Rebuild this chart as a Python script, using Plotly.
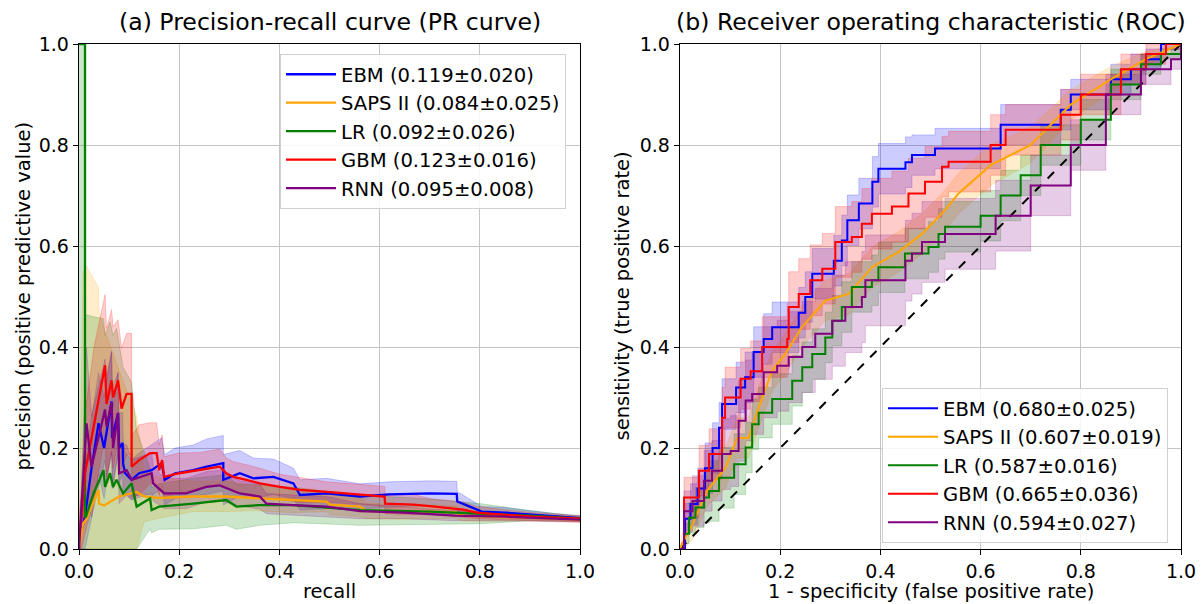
import plotly.graph_objects as go

W, H = 1201, 604
FONT = "DejaVu Sans"

# ---------------- names / colours ----------------
models = ["EBM", "SAPS II", "LR", "GBM", "RNN"]
colors = {"EBM": "#0000ff", "SAPS II": "#ffa500", "LR": "#008000", "GBM": "#ff0000", "RNN": "#800080"}
pr_scores = {"EBM": "0.119±0.020", "SAPS II": "0.084±0.025", "LR": "0.092±0.026",
             "GBM": "0.123±0.016", "RNN": "0.095±0.008"}
roc_scores = {"EBM": "0.680±0.025", "SAPS II": "0.607±0.019", "LR": "0.587±0.016",
              "GBM": "0.665±0.036", "RNN": "0.594±0.027"}
ticks = [0.0, 0.2, 0.4, 0.6, 0.8, 1.0]

# ---------------- PR curves (recall, precision, band half-width) ----------------
pr_ebm_x = [0.0, 0.003, 0.012, 0.025, 0.039, 0.05, 0.065, 0.066, 0.078, 0.08,
            0.087, 0.088, 0.092, 0.105, 0.12, 0.145, 0.165, 0.171, 0.192, 0.228,
            0.255, 0.288, 0.288, 0.321, 0.348, 0.388, 0.428, 0.441, 0.494, 0.561,
            0.62, 0.7, 0.754, 0.755, 0.78, 0.804, 0.85, 0.9, 0.95, 1.0]
pr_ebm_y = [0.0, 0.03, 0.064, 0.16, 0.249, 0.2, 0.292, 0.22, 0.269, 0.2,
            0.21, 0.17, 0.15, 0.137, 0.15, 0.156, 0.17, 0.137, 0.15, 0.156,
            0.163, 0.17, 0.137, 0.15, 0.14, 0.143, 0.13, 0.107, 0.11, 0.104,
            0.108, 0.11, 0.109, 0.094, 0.084, 0.074, 0.072, 0.068, 0.064, 0.061]
pr_ebm_s = [0.0, 0.05, 0.1, 0.1, 0.1, 0.1, 0.1, 0.1, 0.08, 0.07,
            0.06, 0.05, 0.04, 0.04, 0.04, 0.05, 0.05, 0.05, 0.05, 0.05,
            0.055, 0.055, 0.05, 0.045, 0.04, 0.035, 0.03, 0.03, 0.03, 0.025,
            0.025, 0.025, 0.025, 0.02, 0.015, 0.01, 0.01, 0.008, 0.006, 0.005]

pr_saps_x = [0.0, 0.008, 0.015, 0.039, 0.04, 0.05, 0.08, 0.115, 0.13, 0.16,
             0.228, 0.294, 0.348, 0.428, 0.494, 0.501, 0.561, 0.574, 0.65, 0.75,
             0.767, 0.8, 0.85, 0.9, 1.0]
pr_saps_y = [0.0, 0.05, 0.06, 0.117, 0.09, 0.086, 0.104, 0.113, 0.104, 0.101,
             0.104, 0.104, 0.101, 0.097, 0.094, 0.088, 0.084, 0.075, 0.074, 0.073,
             0.066, 0.065, 0.063, 0.062, 0.058]
pr_saps_s = [0.0, 0.5, 0.5, 0.4, 0.38, 0.35, 0.25, 0.15, 0.05, 0.04,
             0.03, 0.03, 0.025, 0.025, 0.02, 0.02, 0.02, 0.015, 0.015, 0.012,
             0.01, 0.01, 0.008, 0.006, 0.005]

pr_lr_x = [0.0, 0.012, 0.012, 0.014, 0.029, 0.049, 0.052, 0.062, 0.068, 0.075,
           0.088, 0.105, 0.115, 0.142, 0.145, 0.16, 0.228, 0.294, 0.314, 0.361,
           0.428, 0.561, 0.7, 0.8, 0.9, 1.0]
pr_lr_y = [1.0, 1.0, 0.064, 0.064, 0.11, 0.156, 0.123, 0.15, 0.123, 0.137,
           0.11, 0.13, 0.084, 0.1, 0.077, 0.084, 0.09, 0.097, 0.084, 0.087,
           0.087, 0.077, 0.074, 0.07, 0.066, 0.06]
pr_lr_s = [1.0, 1.0, 0.4, 0.4, 0.35, 0.3, 0.3, 0.3, 0.3, 0.3,
           0.25, 0.2, 0.15, 0.06, 0.045, 0.045, 0.05, 0.05, 0.045, 0.04,
           0.035, 0.03, 0.025, 0.02, 0.01, 0.005]

pr_gbm_x = [0.0, 0.005, 0.012, 0.03, 0.052, 0.055, 0.065, 0.068, 0.078, 0.085,
            0.095, 0.105, 0.105, 0.12, 0.142, 0.155, 0.16, 0.166, 0.17, 0.2,
            0.241, 0.281, 0.294, 0.308, 0.334, 0.361, 0.401, 0.441, 0.494, 0.561,
            0.61, 0.611, 0.667, 0.7, 0.767, 0.794, 0.85, 0.906, 1.0]
pr_gbm_y = [0.03, 0.06, 0.15, 0.25, 0.364, 0.287, 0.334, 0.30, 0.334, 0.278,
            0.307, 0.307, 0.163, 0.176, 0.19, 0.19, 0.156, 0.176, 0.143, 0.15,
            0.156, 0.163, 0.15, 0.143, 0.137, 0.13, 0.123, 0.117, 0.113, 0.108,
            0.104, 0.09, 0.088, 0.085, 0.078, 0.072, 0.068, 0.064, 0.06]
pr_gbm_s = [0.03, 0.06, 0.12, 0.15, 0.14, 0.15, 0.14, 0.14, 0.12, 0.12,
            0.12, 0.12, 0.06, 0.07, 0.06, 0.06, 0.05, 0.05, 0.04, 0.04,
            0.035, 0.035, 0.03, 0.03, 0.03, 0.03, 0.025, 0.025, 0.02, 0.02,
            0.02, 0.02, 0.02, 0.015, 0.015, 0.012, 0.01, 0.008, 0.006]

pr_rnn_x = [0.0, 0.015, 0.025, 0.052, 0.055, 0.065, 0.068, 0.078, 0.08, 0.095,
            0.105, 0.145, 0.148, 0.17, 0.214, 0.254, 0.281, 0.321, 0.361, 0.374,
            0.428, 0.494, 0.561, 0.65, 0.75, 0.85, 1.0]
pr_rnn_y = [0.0, 0.249, 0.163, 0.276, 0.243, 0.29, 0.2, 0.27, 0.15, 0.156,
            0.137, 0.15, 0.13, 0.11, 0.11, 0.123, 0.126, 0.11, 0.104, 0.09,
            0.087, 0.084, 0.075, 0.072, 0.066, 0.064, 0.058]
pr_rnn_s = [0.0, 0.15, 0.1, 0.1, 0.1, 0.1, 0.08, 0.08, 0.06, 0.05,
            0.04, 0.04, 0.035, 0.03, 0.03, 0.03, 0.03, 0.025, 0.025, 0.02,
            0.02, 0.02, 0.015, 0.012, 0.01, 0.008, 0.005]

# ---------------- ROC curves (FPR, TPR, band half-width) ----------------
roc_ebm_x = [0.0, 0.01, 0.021, 0.035, 0.05, 0.065, 0.078, 0.084, 0.112, 0.13,
             0.147, 0.167, 0.184, 0.237, 0.25, 0.264, 0.307, 0.323, 0.334, 0.357,
             0.384, 0.396, 0.45, 0.463, 0.509, 0.64, 0.76, 0.78, 0.86, 0.9,
             0.93, 0.96, 1.0]
roc_ebm_y = [0.0, 0.06, 0.089, 0.12, 0.16, 0.2, 0.24, 0.287, 0.32, 0.34,
             0.39, 0.416, 0.439, 0.468, 0.499, 0.545, 0.571, 0.611, 0.651, 0.684,
             0.727, 0.753, 0.766, 0.78, 0.793, 0.84, 0.87, 0.9, 0.93, 0.95,
             0.97, 1.0, 1.0]
roc_ebm_s = [0.0, 0.03, 0.04, 0.04, 0.05, 0.05, 0.05, 0.05, 0.05, 0.05,
             0.05, 0.05, 0.05, 0.05, 0.05, 0.05, 0.05, 0.05, 0.05, 0.05,
             0.05, 0.05, 0.05, 0.04, 0.04, 0.04, 0.04, 0.03, 0.03, 0.03,
             0.02, 0.01, 0.0]

roc_saps_x = [0.0, 0.004, 0.025, 0.054, 0.091, 0.114, 0.137, 0.157, 0.184, 0.21,
              0.243, 0.29, 0.337, 0.383, 0.436, 0.483, 0.529, 0.556, 0.62, 0.7,
              0.78, 0.86, 0.93, 1.0]
roc_saps_y = [0.0, 0.01, 0.049, 0.115, 0.161, 0.22, 0.22, 0.28, 0.353, 0.386,
              0.439, 0.492, 0.505, 0.558, 0.588, 0.624, 0.671, 0.704, 0.76, 0.8,
              0.88, 0.93, 0.97, 1.0]
roc_saps_s = [0.0, 0.02, 0.03, 0.03, 0.04, 0.04, 0.04, 0.04, 0.04, 0.04,
              0.04, 0.04, 0.04, 0.04, 0.04, 0.04, 0.04, 0.04, 0.04, 0.035,
              0.03, 0.025, 0.015, 0.0]

roc_lr_x = [0.0, 0.008, 0.018, 0.031, 0.048, 0.058, 0.078, 0.108, 0.131, 0.144,
            0.157, 0.184, 0.224, 0.244, 0.264, 0.29, 0.304, 0.323, 0.343, 0.383,
            0.396, 0.449, 0.496, 0.516, 0.529, 0.6, 0.64, 0.68, 0.72, 0.8,
            0.86, 0.92, 0.96, 1.0]
roc_lr_y = [0.0, 0.03, 0.062, 0.082, 0.102, 0.115, 0.141, 0.168, 0.201, 0.247,
            0.27, 0.297, 0.333, 0.36, 0.386, 0.419, 0.452, 0.479, 0.519, 0.532,
            0.558, 0.585, 0.598, 0.624, 0.638, 0.66, 0.7, 0.74, 0.8, 0.85,
            0.92, 0.96, 0.98, 1.0]
roc_lr_s = [0.0, 0.02, 0.03, 0.04, 0.05, 0.06, 0.06, 0.06, 0.05, 0.05,
            0.05, 0.05, 0.05, 0.05, 0.05, 0.05, 0.05, 0.05, 0.05, 0.05,
            0.05, 0.05, 0.05, 0.05, 0.05, 0.05, 0.05, 0.04, 0.04, 0.04,
            0.03, 0.02, 0.01, 0.0]

roc_gbm_x = [0.0, 0.008, 0.038, 0.058, 0.084, 0.09, 0.121, 0.141, 0.164, 0.214,
             0.217, 0.237, 0.26, 0.284, 0.31, 0.343, 0.363, 0.383, 0.423, 0.456,
             0.489, 0.523, 0.536, 0.6, 0.62, 0.65, 0.76, 0.8, 0.88, 0.93,
             0.97, 1.0]
roc_gbm_y = [0.0, 0.102, 0.155, 0.188, 0.26, 0.3, 0.337, 0.352, 0.40, 0.416,
             0.479, 0.505, 0.532, 0.555, 0.608, 0.618, 0.644, 0.664, 0.678, 0.704,
             0.727, 0.757, 0.767, 0.767, 0.8, 0.83, 0.86, 0.9, 0.95, 0.98,
             1.0, 1.0]
roc_gbm_s = [0.0, 0.04, 0.05, 0.05, 0.06, 0.06, 0.06, 0.06, 0.06, 0.07,
             0.07, 0.07, 0.07, 0.07, 0.07, 0.07, 0.07, 0.07, 0.07, 0.07,
             0.07, 0.06, 0.06, 0.06, 0.06, 0.05, 0.05, 0.04, 0.03, 0.02,
             0.01, 0.0]

roc_rnn_x = [0.0, 0.008, 0.025, 0.048, 0.064, 0.084, 0.101, 0.117, 0.131, 0.144,
             0.167, 0.194, 0.217, 0.244, 0.27, 0.304, 0.33, 0.363, 0.37, 0.45,
             0.463, 0.483, 0.529, 0.63, 0.7, 0.78, 0.85, 0.92, 0.98, 1.0]
roc_rnn_y = [0.0, 0.075, 0.095, 0.135, 0.155, 0.188, 0.194, 0.254, 0.294, 0.307,
             0.35, 0.363, 0.38, 0.40, 0.426, 0.452, 0.479, 0.499, 0.532, 0.571,
             0.585, 0.608, 0.624, 0.66, 0.72, 0.8, 0.9, 0.95, 0.97, 1.0]
roc_rnn_s = [0.0, 0.04, 0.05, 0.06, 0.06, 0.07, 0.07, 0.08, 0.08, 0.08,
             0.09, 0.09, 0.09, 0.09, 0.09, 0.09, 0.09, 0.09, 0.09, 0.08,
             0.08, 0.08, 0.07, 0.07, 0.06, 0.05, 0.04, 0.03, 0.02, 0.0]

diag_x = [0.0, 1.0]
diag_y = [0.0, 1.0]

pr_data = {"EBM": (pr_ebm_x, pr_ebm_y, pr_ebm_s), "SAPS II": (pr_saps_x, pr_saps_y, pr_saps_s),
           "LR": (pr_lr_x, pr_lr_y, pr_lr_s), "GBM": (pr_gbm_x, pr_gbm_y, pr_gbm_s),
           "RNN": (pr_rnn_x, pr_rnn_y, pr_rnn_s)}
roc_data = {"EBM": (roc_ebm_x, roc_ebm_y, roc_ebm_s, "hv"), "SAPS II": (roc_saps_x, roc_saps_y, roc_saps_s, "linear"),
            "LR": (roc_lr_x, roc_lr_y, roc_lr_s, "hv"), "GBM": (roc_gbm_x, roc_gbm_y, roc_gbm_s, "hv"),
            "RNN": (roc_rnn_x, roc_rnn_y, roc_rnn_s, "hv")}


def rgba(hexc, a):
    h = hexc.lstrip("#")
    return "rgba(%d,%d,%d,%s)" % (int(h[0:2], 16), int(h[2:4], 16), int(h[4:6], 16), a)


fig = go.Figure()


def add_band(x, y, s, color, shape, xa, ya):
    lo = [max(0.0, a - b) for a, b in zip(y, s)]
    hi = [min(1.0, a + b) for a, b in zip(y, s)]
    fig.add_trace(go.Scatter(x=x, y=lo, mode="lines", line=dict(width=0.8, color=rgba(color, 0.25), shape=shape),
                             showlegend=False, hoverinfo="skip", xaxis=xa, yaxis=ya))
    fig.add_trace(go.Scatter(x=x, y=hi, mode="lines", line=dict(width=0.8, color=rgba(color, 0.25), shape=shape),
                             fill="tonexty", fillcolor=rgba(color, 0.2),
                             showlegend=False, hoverinfo="skip", xaxis=xa, yaxis=ya))


# bands
for m in models:
    x, y, s = pr_data[m]
    add_band(x, y, s, colors[m], "linear", "x", "y")
for m in models:
    x, y, s, shp = roc_data[m]
    add_band(x, y, s, colors[m], shp, "x2", "y2")

# lines
for m in models:
    x, y, s = pr_data[m]
    fig.add_trace(go.Scatter(x=x, y=y, mode="lines", line=dict(color=colors[m], width=2.3),
                             name="%s (%s)" % (m, pr_scores[m]), legend="legend",
                             legendgroup="pr" + m, xaxis="x", yaxis="y"))
fig.add_trace(go.Scatter(x=diag_x, y=diag_y, mode="lines", line=dict(color="black", width=2, dash="dash"),
                         showlegend=False, xaxis="x2", yaxis="y2"))
for m in models:
    x, y, s, shp = roc_data[m]
    fig.add_trace(go.Scatter(x=x, y=y, mode="lines", line=dict(color=colors[m], width=2, shape=shp),
                             name="%s (%s)" % (m, roc_scores[m]), legend="legend2",
                             legendgroup="roc" + m, xaxis="x2", yaxis="y2"))

L0, L1, R0, R1 = 79, 580, 680, 1181
T, B = 44, 549


def px(v):
    return v / W


def py(v):
    return 1 - v / H


axis_common = dict(range=[0, 1], tickvals=ticks, ticktext=["%.1f" % t for t in ticks],
                   showgrid=True, gridcolor="#c4c4c4", gridwidth=1, automargin=False,
                   showline=True, linecolor="black", linewidth=1.3, mirror=True,
                   ticks="outside", ticklen=5, tickwidth=1, tickcolor="black",
                   tickfont=dict(family=FONT, size=19, color="black"), zeroline=False, fixedrange=True)

LEG_FONT = 19.6
fig.update_layout(
    width=W, height=H, margin=dict(l=0, r=0, t=0, b=0, autoexpand=False),
    paper_bgcolor="white", plot_bgcolor="white",
    font=dict(family=FONT, color="black"),
    xaxis=dict(domain=[px(L0), px(L1)], anchor="y", **axis_common),
    yaxis=dict(domain=[py(B), py(T)], anchor="x", **axis_common),
    xaxis2=dict(domain=[px(R0), px(R1)], anchor="y2", **axis_common),
    yaxis2=dict(domain=[py(B), py(T)], anchor="x2", **axis_common),
    legend=dict(x=px(280), y=py(54), xanchor="left", yanchor="top", bgcolor="rgba(255,255,255,0.85)",
                bordercolor="#d0d0d0", borderwidth=1, font=dict(family=FONT, size=LEG_FONT),
                tracegroupgap=0, traceorder="grouped", itemwidth=50),
    legend2=dict(x=px(882), y=py(388), xanchor="left", yanchor="top", bgcolor="rgba(255,255,255,0.85)",
                 bordercolor="#d0d0d0", borderwidth=1, font=dict(family=FONT, size=LEG_FONT),
                 tracegroupgap=0, traceorder="grouped", itemwidth=50),
    showlegend=True,
)

ann = [
    dict(text="(a) Precision-recall curve (PR curve)", x=px((L0 + L1) / 2), y=py(22), size=23.6, angle=0),
    dict(text="(b) Receiver operating characteristic (ROC)", x=px((R0 + R1) / 2), y=py(22), size=23.6, angle=0),
    dict(text="recall", x=px((L0 + L1) / 2), y=py(591), size=19.5, angle=0),
    dict(text="1 - specificity (false positive rate)", x=px((R0 + R1) / 2), y=py(591), size=19.5, angle=0),
    dict(text="precision (positive predictive value)", x=px(23), y=py((T + B) / 2), size=19.5, angle=-90),
    dict(text="sensitivity (true positive rate)", x=px(622), y=py((T + B) / 2), size=19.5, angle=-90),
]
for a in ann:
    fig.add_annotation(text=a["text"], x=a["x"], y=a["y"], xref="paper", yref="paper",
                       xanchor="center", yanchor="middle", showarrow=False, textangle=a["angle"],
                       font=dict(family=FONT, size=a["size"], color="black"))

fig.write_html("out.html", config={"displayModeBar": False, "staticPlot": True},
               post_script="document.body.style.margin='0px';document.body.style.overflow='hidden';")
